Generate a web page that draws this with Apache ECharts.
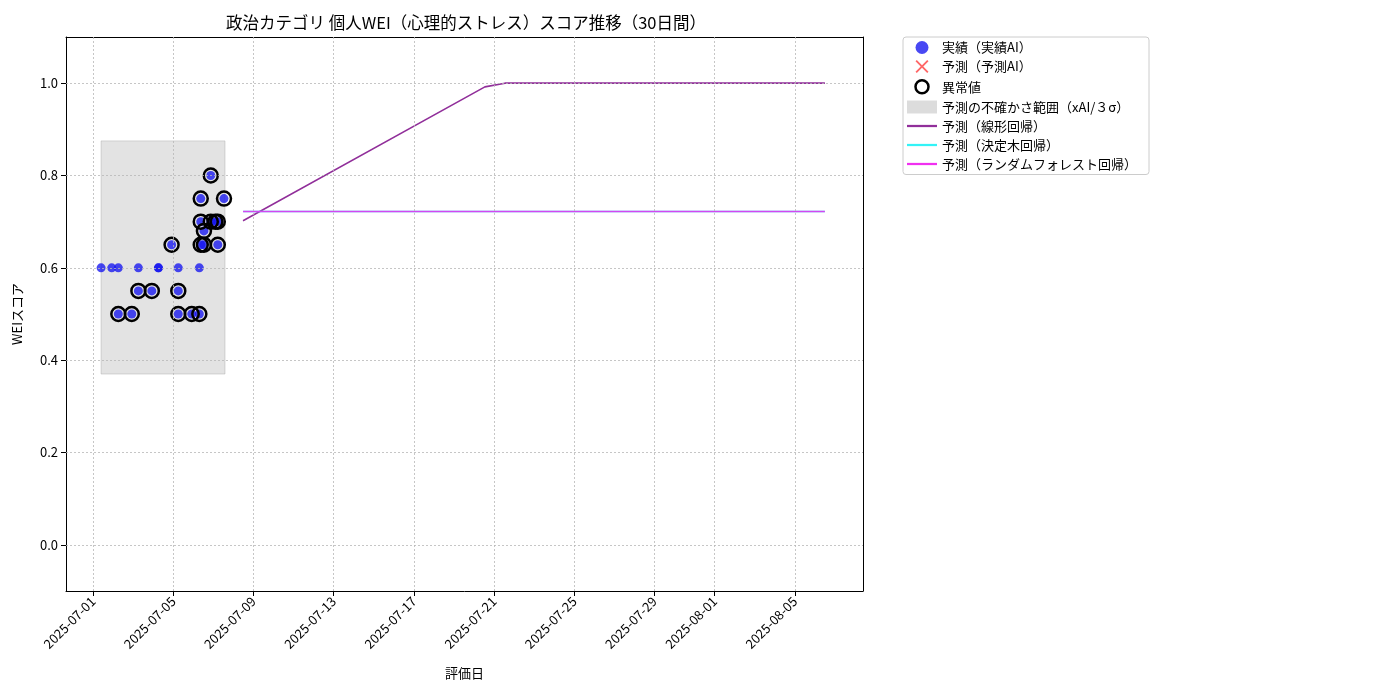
<!DOCTYPE html>
<html><head><meta charset="utf-8">
<script src="https://cdn.jsdelivr.net/npm/echarts@6/dist/echarts.min.js"></script>
<style>html,body{margin:0;padding:0;background:#fff}#c{width:1400px;height:700px}</style>
</head><body><div id="c"></div>
<script>
const BASE = Date.UTC(2025,6,1);
const tickLabels = ['2025-07-01','2025-07-05','2025-07-09','2025-07-13','2025-07-17','2025-07-21','2025-07-25','2025-07-29','2025-08-01','2025-08-05'];
const yTicks = [0.0,0.2,0.4,0.6,0.8,1.0];
const actualDates = ['2025-07-01T09:36','2025-07-01T22:19','2025-07-02T06:14','2025-07-02T06:14','2025-07-02T22:19','2025-07-03T06:14','2025-07-03T06:14','2025-07-03T22:19','2025-07-04T06:14','2025-07-04T06:14','2025-07-04T22:00','2025-07-05T06:00','2025-07-05T06:00','2025-07-05T06:00','2025-07-05T22:05','2025-07-06T07:12','2025-07-06T07:12','2025-07-06T08:53','2025-07-06T08:53','2025-07-06T08:53','2025-07-06T12:43','2025-07-06T12:43','2025-07-06T20:53','2025-07-06T20:53','2025-07-07T02:24','2025-07-07T05:17','2025-07-07T05:17','2025-07-07T12:43'];
const actualValues = [0.60,0.60,0.60,0.50,0.50,0.60,0.55,0.55,0.60,0.60,0.65,0.60,0.55,0.50,0.50,0.60,0.50,0.75,0.70,0.65,0.68,0.65,0.80,0.70,0.70,0.70,0.65,0.75];
const anomalyIdx = [3,4,6,7,10,12,13,14,16,17,18,19,20,21,22,23,24,25,26,27];
const bandX = ['2025-07-01T09:36','2025-07-07T13:55'];
const bandY = [0.37,0.875];
const linDates = ['2025-07-08T11:31','2025-07-20T13:00','2025-07-21T13:00','2025-08-06T12:00'];
const linValues = [0.702,0.992,1.0,1.0];
const treeDates = ['2025-07-08T11:31','2025-08-06T12:00'];
const treeValues = [0.722,0.722];
const rfValues = [0.722,0.722];

const d = s => (Date.parse(s + (s.length>10?':00Z':'T00:00:00Z')) - BASE)/86400000;
const xTickVals = tickLabels.map(d);
const actual = actualDates.map((s,i)=>[d(s),actualValues[i]]);
const anomalies = anomalyIdx.map(i=>actual[i]);
const grid = {type:[2,2],color:'#b8b8b8',width:0.8};
const gridLines = xTickVals.map(v=>({xAxis:v})).concat(yTicks.map(v=>({yAxis:v})));
const font = '"Noto Sans CJK JP", "Noto Sans", sans-serif';
const linePath = 'path://M0,0H40V3H0Z';
const chart = echarts.init(document.getElementById('c'));
chart.setOption({
  animation:false,
  textStyle:{fontFamily:font},
  title:{text:'政治カテゴリ 個人WEI（心理的ストレス）スコア推移（30日間）',left:461,top:9,textAlign:'center',textStyle:{fontSize:16.5,fontWeight:'normal',color:'#000',fontFamily:font}},
  grid:{left:66,right:537,top:37,bottom:109},
  xAxis:[{type:'value',min:-1.35,max:38.4,name:'評価日',nameLocation:'middle',nameGap:76,nameTextStyle:{fontSize:13,color:'#000'},
    axisLine:{onZero:false,lineStyle:{color:'#000'}},splitLine:{show:false},
    axisTick:{customValues:xTickVals,lineStyle:{color:'#000'}},
    axisLabel:{customValues:xTickVals,rotate:45,color:'#000',fontSize:13,formatter:v=>tickLabels[xTickVals.findIndex(t=>Math.abs(t-v)<1e-6)]||''}},
    {type:'value',position:'top',min:-1.35,max:38.4,axisLine:{show:true,onZero:false,lineStyle:{color:'#000'}},axisTick:{show:false},axisLabel:{show:false},splitLine:{show:false}}],
  yAxis:[{type:'value',min:-0.1,max:1.1,name:'WEIスコア',nameLocation:'middle',nameGap:42,nameTextStyle:{fontSize:13,color:'#000'},
    axisLine:{show:true,onZero:false,lineStyle:{color:'#000'}},splitLine:{show:false},
    axisTick:{show:true,customValues:yTicks,lineStyle:{color:'#000'}},
    axisLabel:{customValues:yTicks,color:'#000',fontSize:13,formatter:v=>v.toFixed(1)}},
    {type:'value',position:'right',min:-0.1,max:1.1,axisLine:{show:true,onZero:false,lineStyle:{color:'#000'}},axisTick:{show:false},axisLabel:{show:false},splitLine:{show:false}}],
  legend:{orient:'vertical',left:903,top:37,itemGap:6,itemWidth:30,itemHeight:13,padding:[4,12,4,4],borderColor:'#ccc',borderWidth:1,borderRadius:3,
    textStyle:{fontSize:13,color:'#000'},
    data:[{name:'実績（実績AI）',icon:'circle'},{name:'予測（予測AI）',icon:'path://M0,2L2,0L10,8L18,0L20,2L12,10L20,18L18,20L10,12L2,20L0,18L8,10Z'},{name:'異常値',icon:'circle',itemStyle:{color:'#fff',borderColor:'#000',borderWidth:2.5}},{name:'予測の不確かさ範囲（xAI/３σ）',icon:'rect'},{name:'予測（線形回帰）',icon:linePath},{name:'予測（決定木回帰）',icon:linePath},{name:'予測（ランダムフォレスト回帰）',icon:linePath}]},
  series:[
    {name:'予測の不確かさ範囲（xAI/３σ）',type:'line',data:[],itemStyle:{color:'#dcdcdc'},silent:true,
      markLine:{silent:true,symbol:'none',label:{show:false},lineStyle:grid,emphasis:{disabled:true},data:gridLines},
      markArea:{silent:true,itemStyle:{color:'rgba(200,200,200,0.5)',borderColor:'rgba(160,160,160,0.4)',borderWidth:1},data:[[{xAxis:d(bandX[0]),yAxis:bandY[1]},{xAxis:d(bandX[1]),yAxis:bandY[0]}]]}},
    {name:'予測（線形回帰）',type:'line',data:linDates.map((s,i)=>[d(s),linValues[i]]),showSymbol:false,lineStyle:{color:'#912f9a',width:1.6},itemStyle:{color:'#912f9a'}},
    {name:'予測（決定木回帰）',type:'line',data:treeDates.map((s,i)=>[d(s),treeValues[i]]),showSymbol:false,lineStyle:{color:'#33f3f7',width:1.6},itemStyle:{color:'#33f3f7'}},
    {name:'予測（ランダムフォレスト回帰）',type:'line',data:treeDates.map((s,i)=>[d(s),rfValues[i]]),showSymbol:false,lineStyle:{color:'rgba(240,40,240,0.85)',width:1.6},itemStyle:{color:'#f030f0'}},
    {name:'実績（実績AI）',type:'scatter',data:actual,symbolSize:9,itemStyle:{color:'rgba(20,20,240,0.78)',opacity:1}},
    {name:'予測（予測AI）',type:'scatter',data:[],itemStyle:{color:'#ff4040'}},
    {name:'異常値',type:'scatter',data:anomalies,symbol:'circle',symbolSize:14,itemStyle:{color:'rgba(0,0,0,0)',borderColor:'#000',borderWidth:2.5,opacity:1}}
  ]
});
</script></body></html>
